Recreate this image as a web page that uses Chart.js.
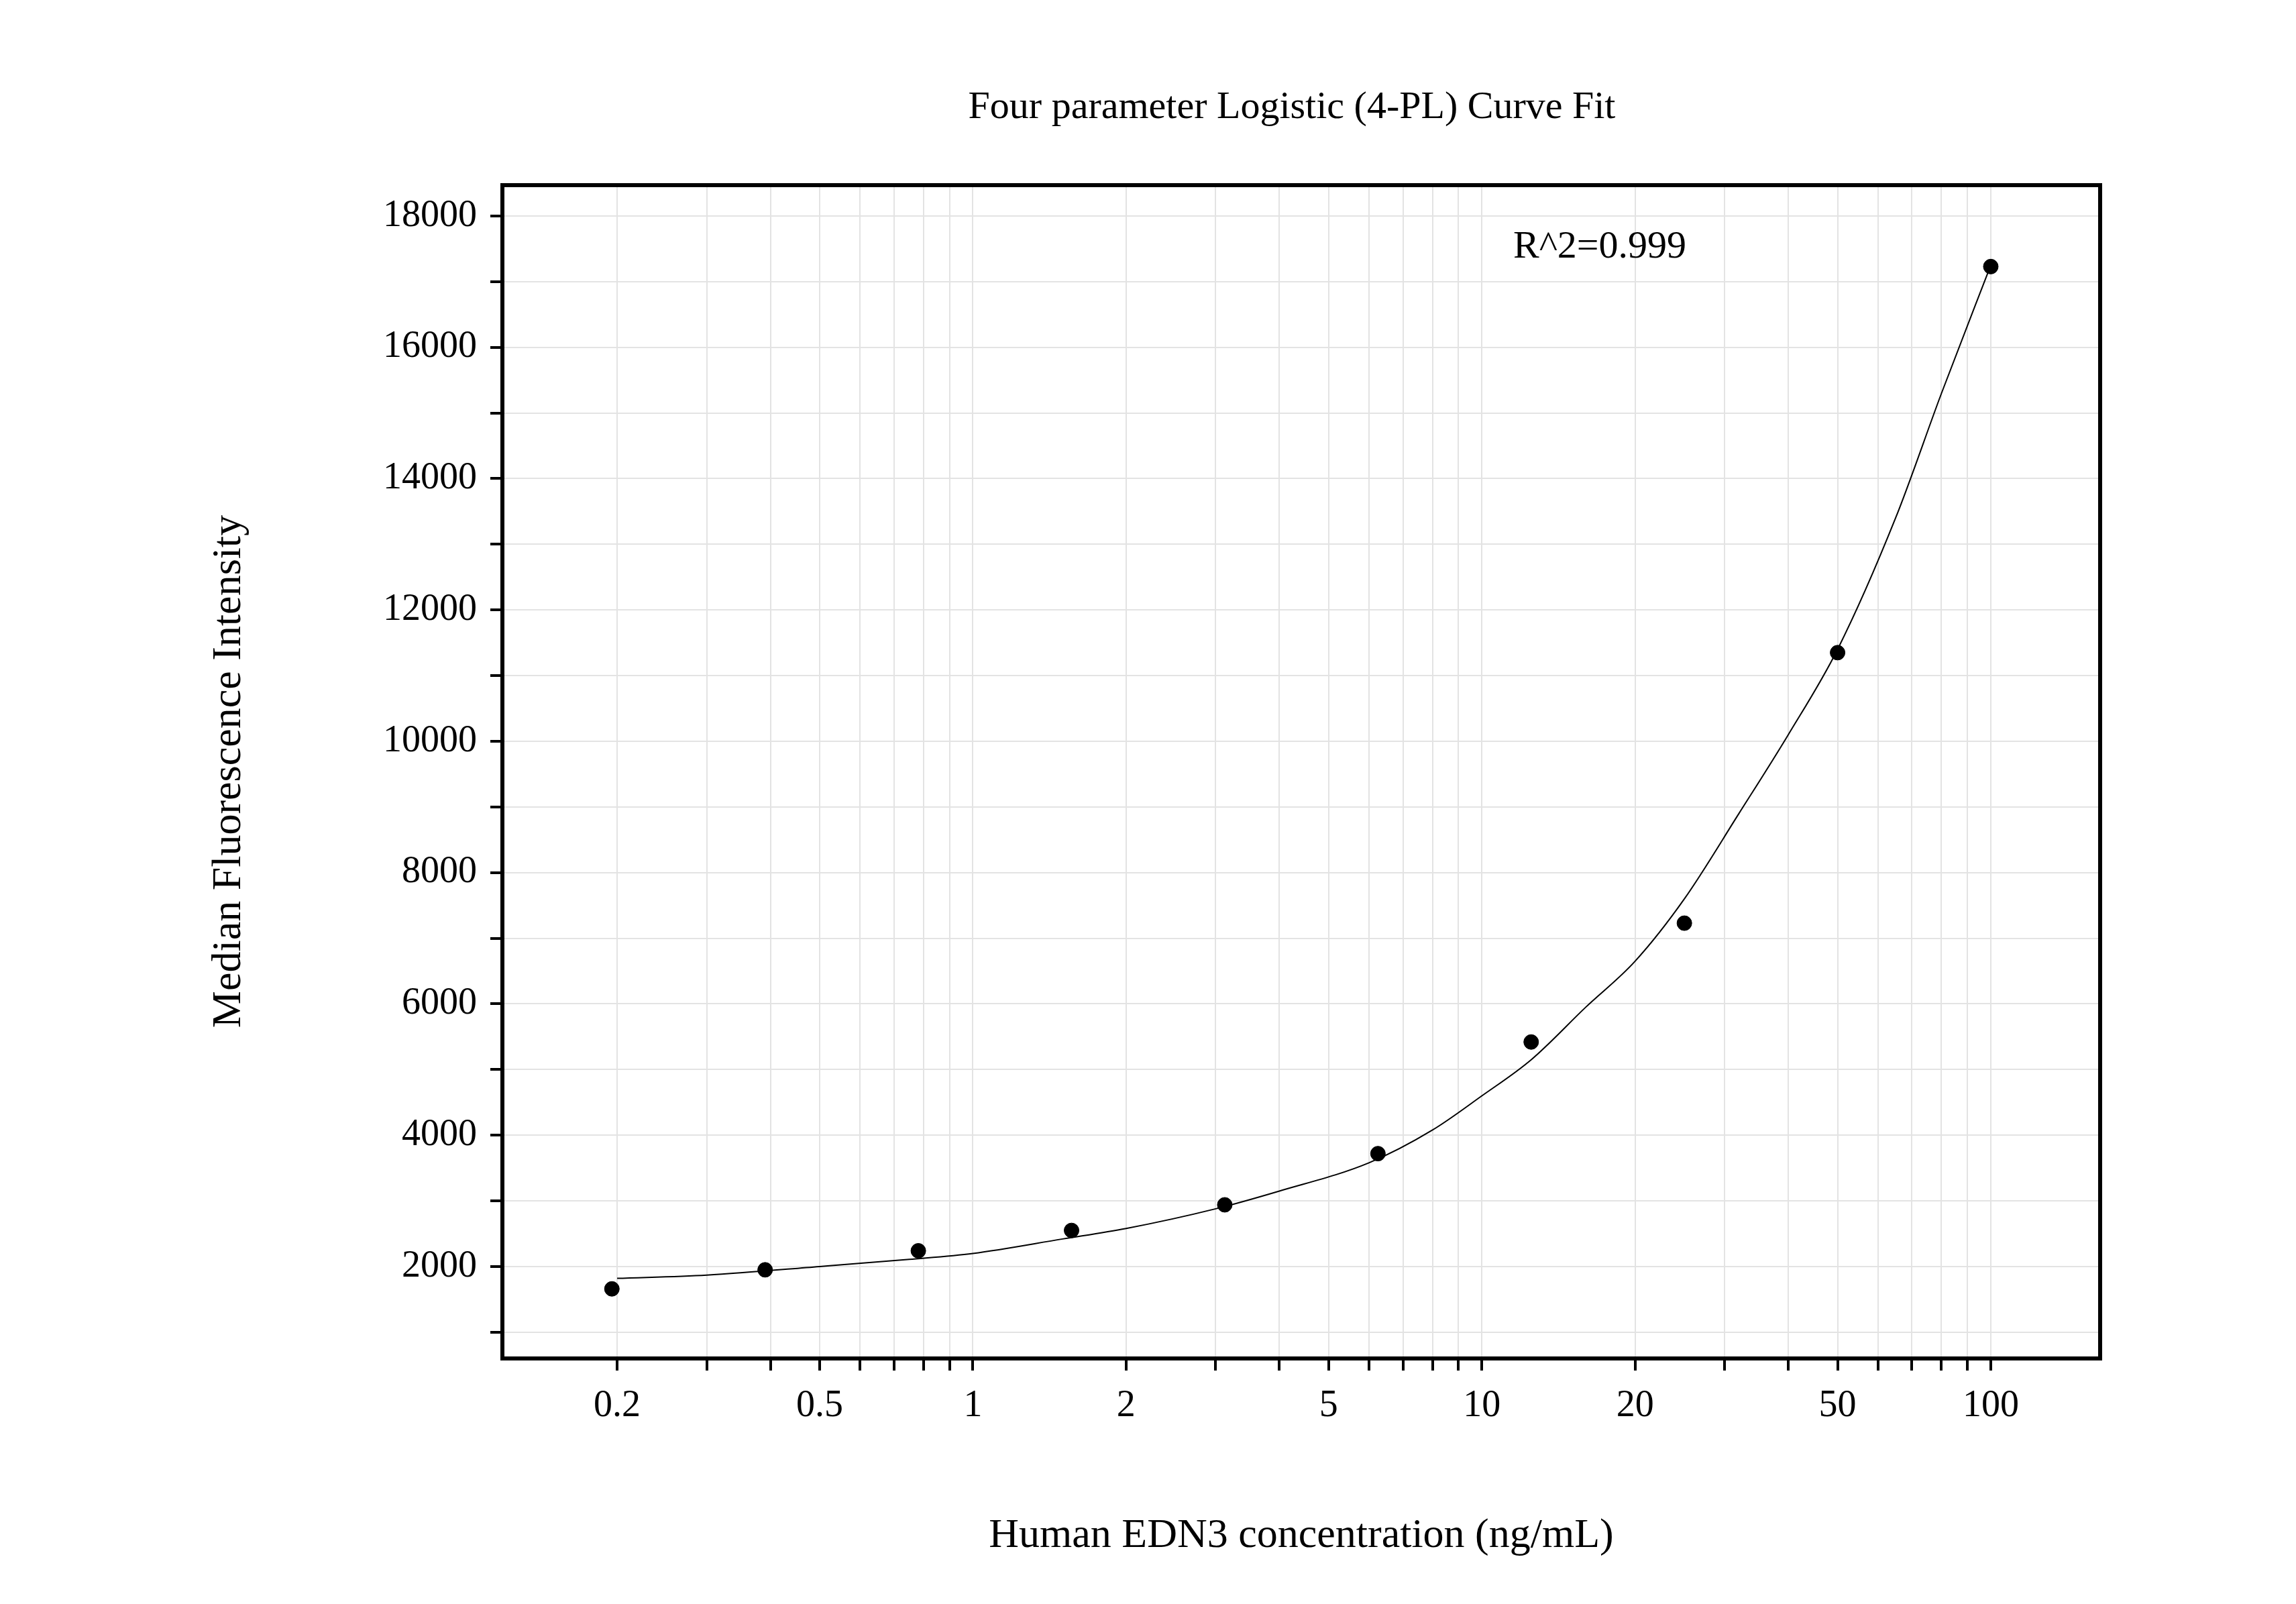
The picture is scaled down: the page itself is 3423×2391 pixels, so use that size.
<!DOCTYPE html>
<html><head><meta charset="utf-8">
<script src="https://cdn.jsdelivr.net/npm/chart.js@4"></script>
<style>body{margin:0;background:#fff}canvas{display:block}</style>
</head><body>
<canvas id="c" width="3423" height="2391"></canvas>
<script>
const concentrations = [100, 50, 25, 12.5, 6.25, 3.125, 1.5625, 0.78125, 0.390625, 0.1953];
const intensities = [17230, 11350, 7230, 5420, 3720, 2940, 2550, 2240, 1950, 1660];
const curveX = [0.2, 0.3, 0.5, 0.75, 1, 1.5, 2, 3, 4, 6, 8, 10, 12.5, 16, 20, 25, 32, 40, 50, 65, 80, 100];
const curveY = [1820, 1870, 2000, 2110, 2200, 2420, 2580, 2880, 3150, 3580, 4080, 4600, 5150, 5950, 6650, 7600, 8900, 10100, 11400, 13400, 15300, 17250];
const xLabels = [0.2, 0.5, 1, 2, 5, 10, 20, 50, 100];
const title = "Four parameter Logistic (4-PL) Curve Fit";
const xTitle = "Human EDN3 concentration (ng/mL)";
const yTitle = "Median Fluorescence Intensity";
const rText = "R^2=0.999";

const FONT = "'Liberation Serif', 'DejaVu Serif', serif";
const deco = {
  id: 'deco',
  afterDraw(ch) {
    const c = ch.ctx, a = ch.chartArea;
    c.save();
    c.strokeStyle = '#000'; c.lineWidth = 6;
    c.strokeRect(a.left, a.top, a.right - a.left, a.bottom - a.top);
    c.fillStyle = '#000'; c.textAlign = 'center'; c.textBaseline = 'middle';
    c.font = `58px ${FONT}`;
    c.fillText(title, 1926, 161);
    c.fillText(rText, 2385, 369);
    c.font = `62px ${FONT}`;
    c.fillText(xTitle, 1940, 2290);
    c.translate(342, 1150); c.rotate(-Math.PI / 2);
    c.fillText(yTitle, 0, 0);
    c.restore();
  }
};

const xTicks = [];
for (let e = -1; e <= 2; e++) for (let m = 1; m <= 9; m++) {
  const v = +(m * Math.pow(10, e)).toPrecision(3);
  if (v >= 0.2 && v <= 100) xTicks.push(v);
}

new Chart(document.getElementById('c'), {
  data: {
    datasets: [
      { type: 'line', data: curveX.map((x, i) => ({ x, y: curveY[i] })), borderColor: '#000', borderWidth: 2, pointRadius: 0, cubicInterpolationMode: 'monotone' },
      { type: 'scatter', data: concentrations.map((x, i) => ({ x, y: intensities[i] })), backgroundColor: '#000', borderColor: '#000', pointRadius: 11 }
    ]
  },
  plugins: [deco],
  options: {
    responsive: false, animation: false, devicePixelRatio: 1,
    layout: { padding: { top: 276, right: 292, left: 0, bottom: 0 } },
    plugins: { legend: { display: false }, tooltip: { enabled: false } },
    scales: {
      x: {
        type: 'logarithmic', min: 0.119, max: 164,
        afterBuildTicks: s => { s.ticks = xTicks.map(v => ({ value: v })); },
        afterFit: s => { s.height = 366; },
        grid: { color: '#e3e3e3', lineWidth: 2, tickColor: '#000', tickWidth: 4, tickLength: 18 },
        border: { display: false },
        ticks: { autoSkip: false, maxRotation: 0, color: '#000', padding: 20, font: { family: FONT, size: 56 },
          callback: v => xLabels.includes(+(+v).toPrecision(3)) ? String(+(+v).toPrecision(3)) : '' }
      },
      y: {
        min: 600, max: 18470,
        afterBuildTicks: s => { const t = []; for (let v = 1000; v <= 18000; v += 1000) t.push({ value: v }); s.ticks = t; },
        afterFit: s => { s.width = 749; },
        grid: { color: '#e3e3e3', lineWidth: 2, tickColor: '#000', tickWidth: 4, tickLength: 18 },
        border: { display: false },
        ticks: { autoSkip: false, color: '#000', padding: 20, font: { family: FONT, size: 56 },
          callback: v => v % 2000 === 0 ? String(v) : '' }
      }
    }
  }
});
</script>
</body></html>
